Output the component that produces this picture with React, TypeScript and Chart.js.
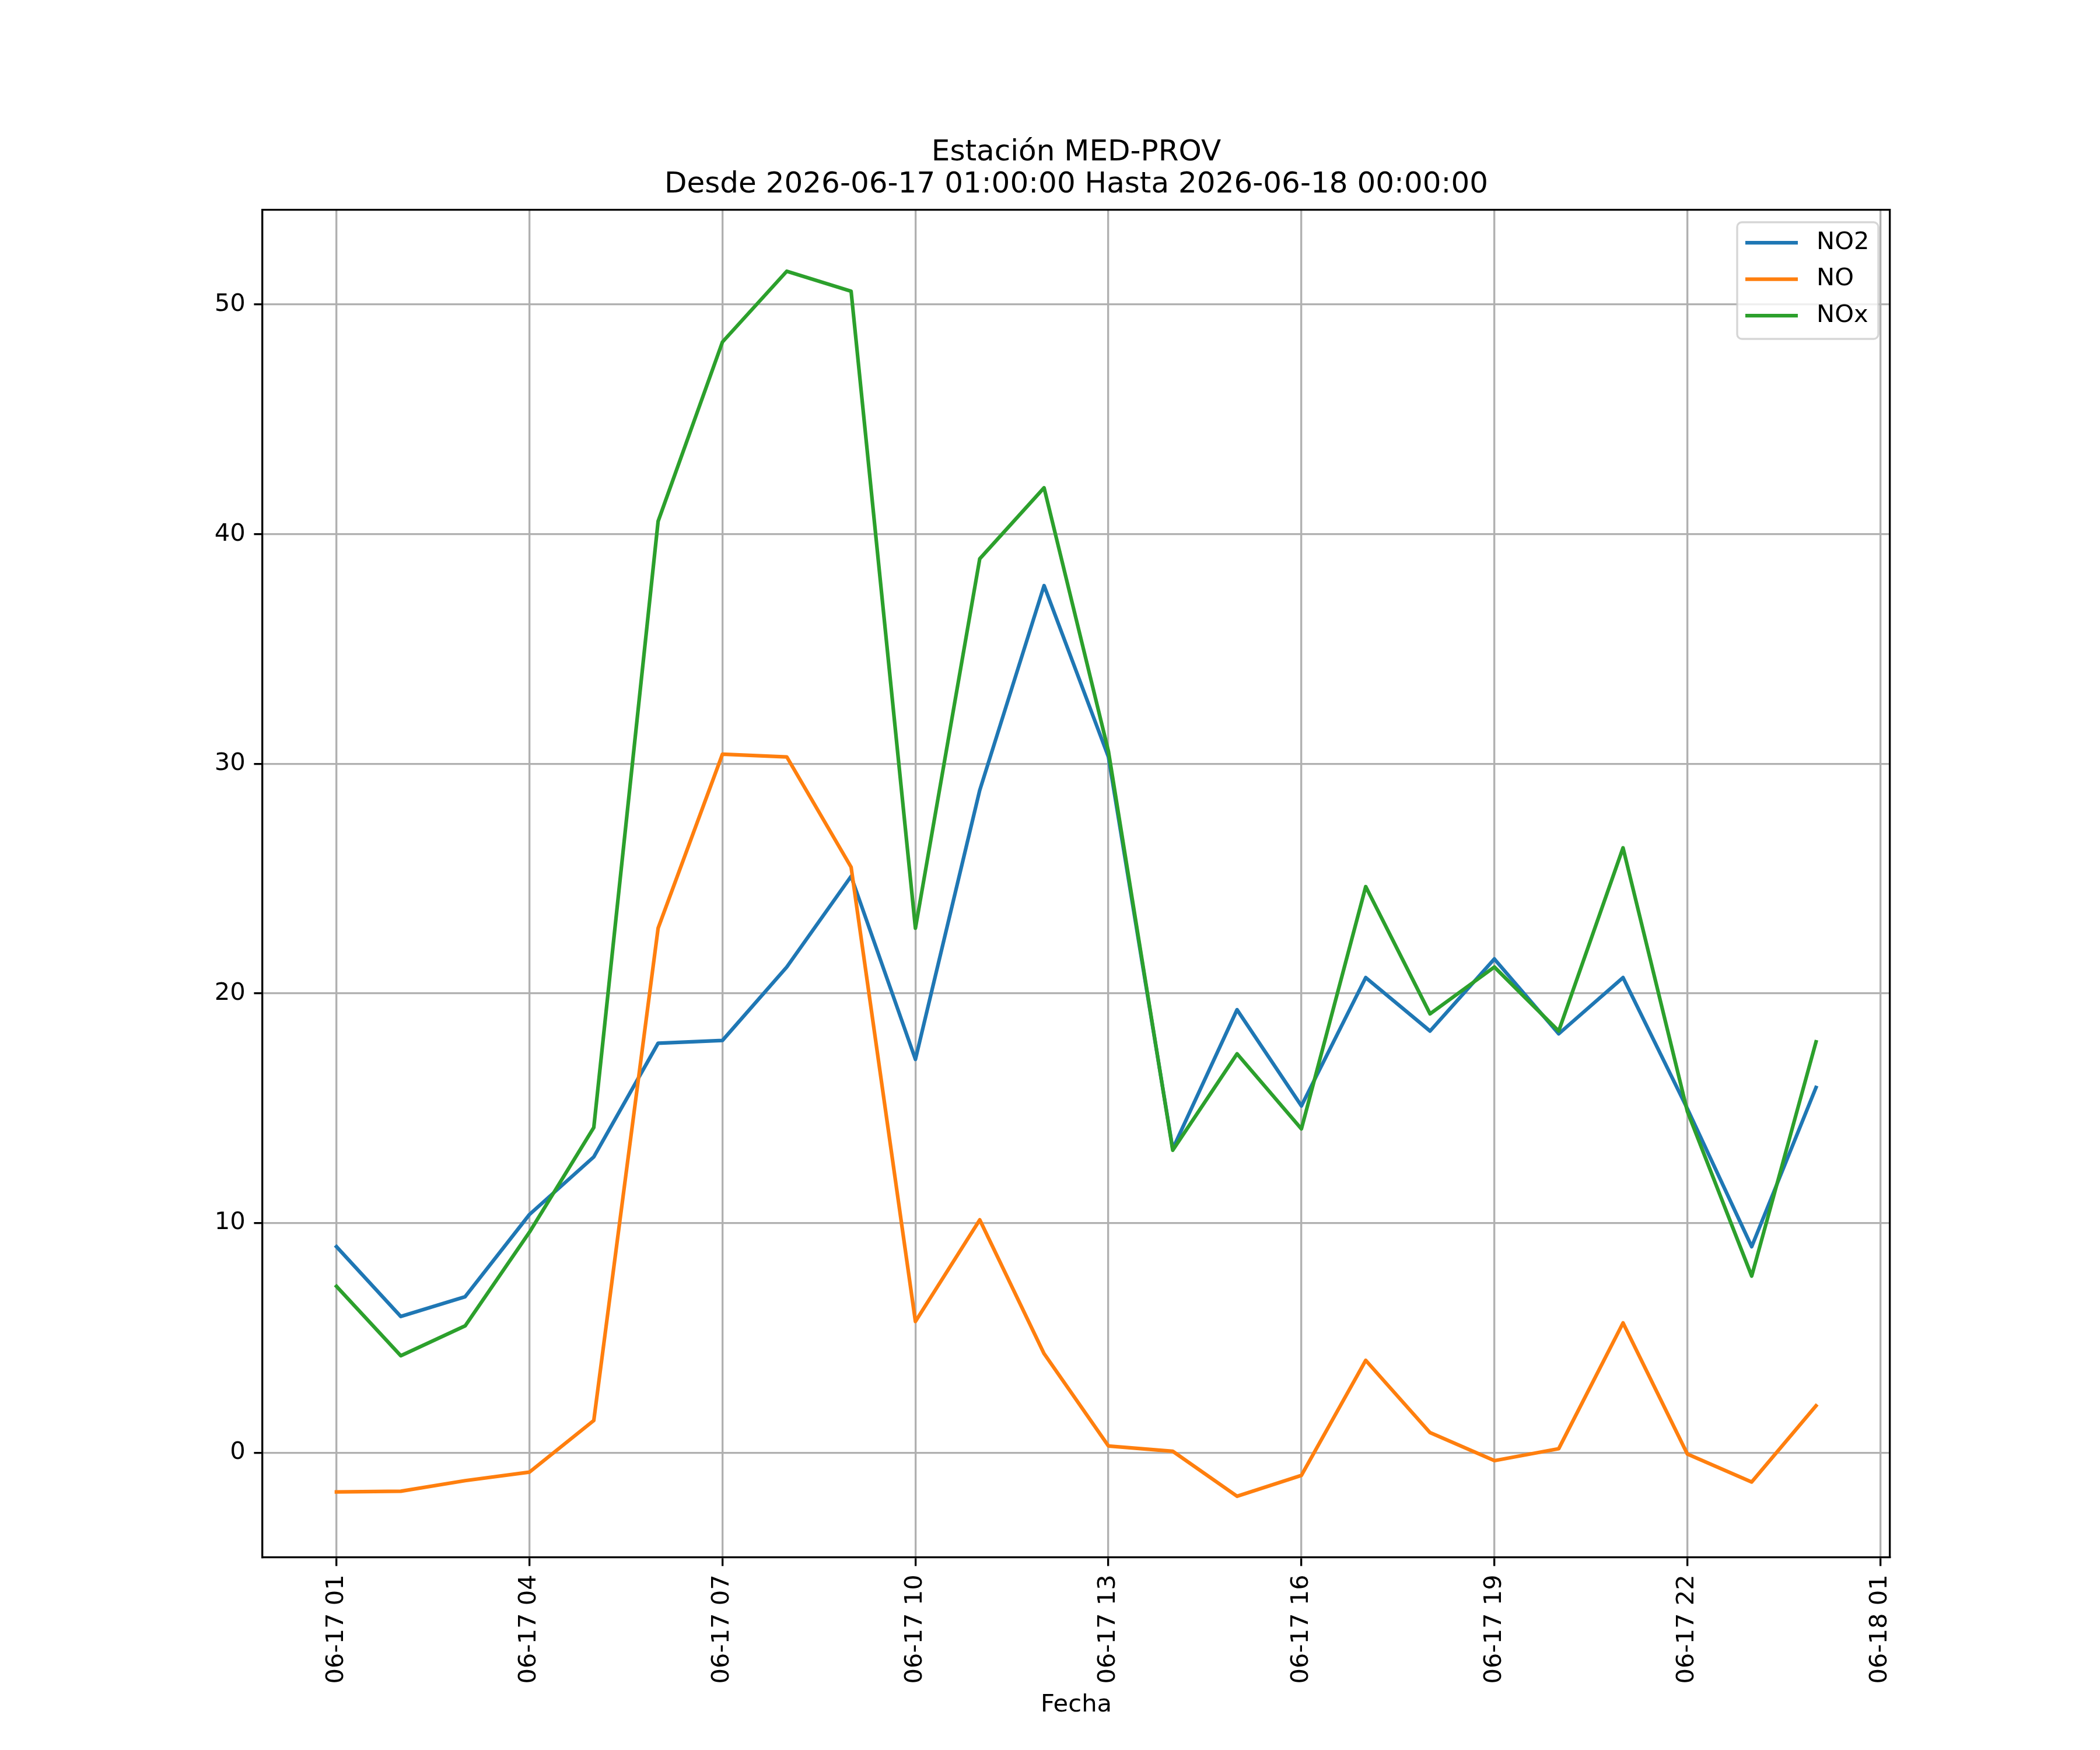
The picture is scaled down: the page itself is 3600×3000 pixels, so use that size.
import { useEffect, useRef } from "react";
import { Chart, ChartOptions, Plugin, registerables } from "chart.js";

Chart.register(...registerables);

// hours after 2026-06-17 01:00
const hours = [0, 1, 2, 3, 4, 5, 6, 7, 8, 9, 10, 11, 12, 13, 14, 15, 16, 17, 18, 19, 20, 21, 22, 23];

const no2 = [8.97, 5.93, 6.79, 10.37, 12.88, 17.83, 17.95, 21.15, 25.1, 17.13, 28.85, 37.76, 30.3, 13.23, 19.29, 15.1, 20.69, 18.36, 21.5, 18.24, 20.69, 14.98, 8.97, 15.9];
const no = [-1.71, -1.68, -1.22, -0.85, 1.4, 22.84, 30.42, 30.3, 25.5, 5.71, 10.14, 4.31, 0.29, 0.06, -1.9, -0.99, 4.02, 0.87, -0.35, 0.17, 5.65, -0.06, -1.28, 2.04];
const nox = [7.24, 4.22, 5.52, 9.6, 14.16, 40.56, 48.37, 51.45, 50.58, 22.84, 38.93, 42.02, 30.55, 13.17, 17.37, 14.1, 24.65, 19.11, 21.15, 18.36, 26.34, 14.86, 7.69, 17.89];

const tickHours = [0, 3, 6, 9, 12, 15, 18, 21, 24];
const tickLabels = ["06-17 01", "06-17 04", "06-17 07", "06-17 10", "06-17 13", "06-17 16", "06-17 19", "06-17 22", "06-18 01"];
const yTicks = [0, 10, 20, 30, 40, 50];

const titleLines = ["Estación MED-PROV", "Desde 2026-06-17 01:00:00 Hasta 2026-06-18 00:00:00"];

const FONT = "'DejaVu Sans'";
const FS = 41.67; // 10pt at 300 dpi
const LW = 3.33; // 0.8pt

// matplotlib-like 5% margins
const xMin = hours[0] - (hours[hours.length - 1] - hours[0]) * 0.05;
const xMax = hours[hours.length - 1] + (hours[hours.length - 1] - hours[0]) * 0.05;
const allY = [...no2, ...no, ...nox];
const yLo = Math.min(...allY);
const yHi = Math.max(...allY);
const yMin = yLo - (yHi - yLo) * 0.05;
const yMax = yHi + (yHi - yLo) * 0.05;

const mplLegend: Plugin<"line"> = {
  id: "mplLegend",
  afterDraw(chart) {
    const { ctx, chartArea } = chart;
    const w = 242;
    const h = 200;
    const x0 = chartArea.right - 20 - w;
    const y0 = chartArea.top + 21;
    ctx.save();
    ctx.beginPath();
    ctx.roundRect(x0, y0, w, h, 8);
    ctx.fillStyle = "rgba(255,255,255,0.8)";
    ctx.fill();
    ctx.lineWidth = LW;
    ctx.strokeStyle = "rgba(204,204,204,0.8)";
    ctx.stroke();
    chart.data.datasets.forEach((ds, i) => {
      const y = y0 + 35 + i * 62.5;
      ctx.beginPath();
      ctx.moveTo(x0 + 14, y);
      ctx.lineTo(x0 + 104, y);
      ctx.strokeStyle = ds.borderColor as string;
      ctx.lineWidth = 6.25;
      ctx.lineCap = "butt";
      ctx.stroke();
      ctx.fillStyle = "#000";
      ctx.font = `${FS}px ${FONT}`;
      ctx.textBaseline = "middle";
      ctx.textAlign = "left";
      ctx.fillText(ds.label as string, x0 + 136, y);
    });
    ctx.restore();
  },
};

const App = () => {
  const canvasRef = useRef<HTMLCanvasElement | null>(null);

  useEffect(() => {
    if (!canvasRef.current) return;
    const ctx = canvasRef.current.getContext("2d");
    if (!ctx) return;

    const line = (label: string, values: number[], color: string, order: number) => ({
      label,
      data: hours.map((h, i) => ({ x: h, y: values[i] })),
      borderColor: color,
      backgroundColor: color,
      borderWidth: 6.25,
      borderJoinStyle: "round" as const,
      borderCapStyle: "square" as const,
      pointRadius: 0,
      tension: 0,
      order,
    });

    const tickFont = { family: FONT, size: FS };

    const options: ChartOptions<"line"> = {
      responsive: false,
      maintainAspectRatio: false,
      devicePixelRatio: 1,
      animation: false,
      layout: { padding: 0 },
      plugins: {
        legend: { display: false },
        tooltip: { enabled: false },
        title: {
          display: true,
          fullSize: false,
          text: titleLines,
          color: "#000",
          font: { family: FONT, size: 50, weight: "normal", lineHeight: 1.1 },
          padding: { top: 235, bottom: 15 },
        },
      },
      scales: {
        x: {
          type: "linear",
          position: "bottom",
          min: xMin,
          max: xMax,
          afterBuildTicks: (scale) => {
            scale.ticks = tickHours.map((v) => ({ value: v }));
          },
          afterFit: (scale) => {
            scale.height = 330;
          },
          ticks: {
            autoSkip: false,
            minRotation: 90,
            maxRotation: 90,
            padding: 14.6,
            color: "#000",
            font: tickFont,
            callback: (v) => tickLabels[tickHours.indexOf(Number(v))] ?? "",
          },
          grid: {
            color: "#b0b0b0",
            lineWidth: LW,
            tickColor: "#000",
            tickWidth: LW,
            tickLength: 14.6,
          },
          border: { color: "#000", width: LW },
          title: {
            display: true,
            text: "Fecha",
            color: "#000",
            font: { family: FONT, size: FS },
            padding: { top: 0, bottom: 52 },
          },
        },
        x2: {
          type: "linear",
          position: "top",
          min: xMin,
          max: xMax,
          afterFit: (scale) => {
            scale.height = 0;
          },
          ticks: { display: false },
          grid: { display: false, drawTicks: false },
          border: { color: "#000", width: LW },
        },
        y: {
          type: "linear",
          position: "left",
          min: yMin,
          max: yMax,
          afterBuildTicks: (scale) => {
            scale.ticks = yTicks.map((v) => ({ value: v }));
          },
          afterFit: (scale) => {
            scale.width = 450;
          },
          ticks: {
            padding: 14.6,
            color: "#000",
            font: tickFont,
            callback: (v) => String(v),
          },
          grid: {
            color: "#b0b0b0",
            lineWidth: LW,
            tickColor: "#000",
            tickWidth: LW,
            tickLength: 14.6,
          },
          border: { color: "#000", width: LW },
        },
        y2: {
          type: "linear",
          position: "right",
          min: yMin,
          max: yMax,
          afterFit: (scale) => {
            scale.width = 360;
          },
          ticks: { display: false },
          grid: { display: false, drawTicks: false },
          border: { color: "#000", width: LW },
        },
      },
    };

    const chart = new Chart(ctx, {
      type: "line",
      data: {
        datasets: [
          line("NO2", no2, "#1f77b4", 3),
          line("NO", no, "#ff7f0e", 2),
          line("NOx", nox, "#2ca02c", 1),
        ],
      },
      options,
      plugins: [mplLegend],
    });

    return () => {
      chart.destroy();
    };
  }, []);

  return (
    <div style={{ position: "absolute", left: 0, top: 0, background: "#fff" }}>
      <canvas ref={canvasRef} width={3600} height={3000} style={{ width: 3600, height: 3000, display: "block" }}></canvas>
    </div>
  );
};

export default App;
